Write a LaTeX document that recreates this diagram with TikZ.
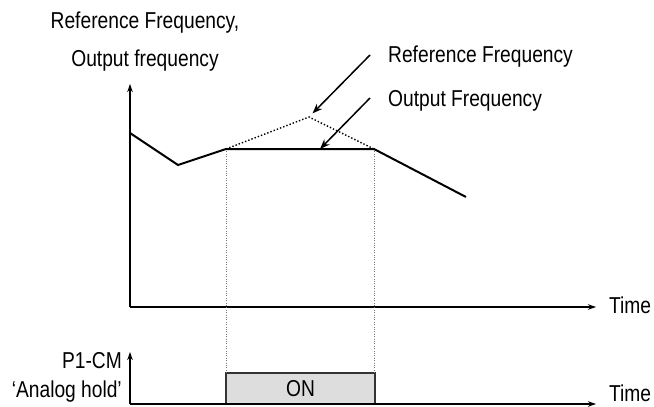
\documentclass[tikz,border=0pt]{standalone}
\usepackage{fontspec}
\setmainfont[FakeStretch=0.835]{Liberation Sans}
\usepackage{xcolor}
\usetikzlibrary{arrows.meta}
\definecolor{onfillc}{HTML}{DDDDDD}
\definecolor{guidec}{HTML}{777777}
\definecolor{boxc}{HTML}{333333}
\tikzset{
  labeltext/.style={inner sep=0pt, font=\fontsize{23}{26}\selectfont, anchor=base},
  axisedge/.style={-{Stealth[length=8pt,width=5.5pt]}, draw=black, line width=1.2pt},
  outputedge/.style={draw=black, line width=2pt, line join=miter},
  refedge/.style={draw=black, line width=1.4pt, dash pattern=on 1.4pt off 2pt},
  guideedge/.style={draw=guidec, line width=0.8pt, dash pattern=on 0.8pt off 1.6pt},
  pointeredge/.style={-{Stealth[length=10pt,width=7.5pt]}, draw=black, line width=1.5pt},
  onnode/.style={rectangle, draw=boxc, fill=onfillc, line width=1.5pt, inner sep=0pt,
    minimum width=149pt, minimum height=31pt, font=\fontsize{23}{26}\selectfont},
}
\begin{document}
\begin{tikzpicture}[x=1pt, y=-1pt]
  \useasboundingbox (0,0) rectangle (654,407);
  \coordinate (origin) at (130,307);
  \coordinate (ytop) at (130,84);
  \coordinate (xend) at (596,307);
  \coordinate (lorigin) at (130,404);
  \coordinate (lytop) at (130,352);
  \coordinate (lxend) at (596,404);
  \coordinate (c0) at (130,133);
  \coordinate (c1) at (178,165);
  \coordinate (flatstart) at (226,149);
  \coordinate (flatend) at (374,149);
  \coordinate (c4) at (466,197);
  \coordinate (refpeak) at (309,117);
  \coordinate (refstart) at (370,55);
  \coordinate (outstart) at (370,98);
  \coordinate (outpoint) at (320,149);
  \node[labeltext] (ylabela) at (145,28) {Reference Frequency,};
  \node[labeltext] (ylabelb) at (145,66) {Output frequency};
  \node[labeltext, anchor=base west] (reflabel) at (388,62) {Reference Frequency};
  \node[labeltext, anchor=base west] (outlabel) at (388,106) {Output Frequency};
  \node[labeltext, anchor=base west] (timea) at (609,313) {Time};
  \node[labeltext, anchor=base west] (timeb) at (609,401) {Time};
  \node[labeltext, anchor=base east] (pinlabel) at (122,368) {P1-CM};
  \node[labeltext, anchor=base east] (holdlabel) at (122,397) {‘Analog hold’};
  \node[onnode] (onbox) at (300.5,388.5) {ON};
  \draw[axisedge] (origin) -- (ytop);
  \draw[axisedge] (origin) -- (xend);
  \draw[axisedge] (lorigin) -- (lytop);
  \draw[axisedge] (lorigin) -- (lxend);
  \draw[guideedge] (flatstart) -- (flatstart |- onbox.north);
  \draw[guideedge] (flatend) -- (flatend |- onbox.north);
  \draw[refedge] (flatstart) -- (refpeak) -- (flatend);
  \draw[outputedge] (c0) -- (c1) -- (flatstart) -- (flatend) -- (c4);
  \draw[pointeredge, shorten >=5pt] (refstart) -- (refpeak);
  \draw[pointeredge] (outstart) -- (outpoint);
\end{tikzpicture}
\end{document}
